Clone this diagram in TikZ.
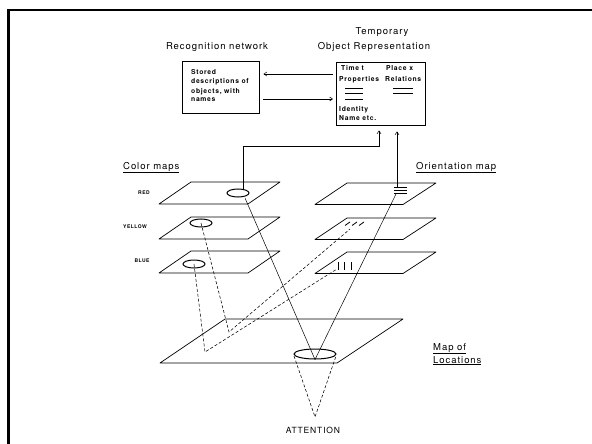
\documentclass[tikz,border=0pt]{standalone}
\usepackage{fontspec}
\setmainfont{TeX Gyre Heros}
\newfontfamily\pf[LetterSpace=10]{TeX Gyre Heros}
\usetikzlibrary{arrows.meta,shapes.geometric}
\begin{document}
\begin{tikzpicture}[x=1pt,y=-1pt,
  plane/.style={line width=0.7pt, line join=round},
  link/.style={line width=0.5pt},
  dlink/.style={line width=0.55pt, dash pattern=on 3pt off 2pt},
  arr/.style={line width=0.5pt, -{Straight Barb[length=3pt,width=4pt]}},
  spot/.style={draw, ellipse, line width=1pt, minimum width=22pt, minimum height=8pt, inner sep=0pt},
  box/.style={draw, line width=0.8pt, inner sep=0pt},
  title/.style={font=\pf\fontsize{9.5}{11}\selectfont, inner sep=0pt},
  lbl/.style={font=\pf\fontsize{9.5}{11}\selectfont, inner sep=0pt, anchor=base west},
  small/.style={font=\pf\bfseries\fontsize{6.8}{8}\selectfont, anchor=base west, inner sep=0pt},
  tiny/.style={font=\pf\bfseries\fontsize{5}{6}\selectfont, inner sep=0pt},
  tick/.style={line width=0.8pt}
]
\useasboundingbox (0,0) rectangle (592,444);
\fill[white] (0,0) rectangle (592,444);
% frame
\draw[line width=2.5pt] (8.7,444) -- (8.7,10) -- (592,10);

% titles
\node[title] (t1) at (382,32) {Temporary};
\node[title] (t2) at (374,47) {Object Representation};
\node[title] (t3) at (217,47) {Recognition network};

% boxes
\node[box, minimum width=77pt, minimum height=52pt] (rec) at (220.5,87) {};
\node[box, minimum width=89pt, minimum height=63pt] (orep) at (380.5,93.5) {};

% left box text
\node[small] (s1) at (191,74.5) {Stored};
\node[small] (s2) at (191,84) {descriptions of};
\node[small] (s3) at (191,93) {objects, with};
\node[small] (s4) at (191,102) {names};

% right box text
\node[small] (r1) at (341,70.5) {Time t};
\node[small] (r2) at (386,70.5) {Place x};
\node[small] (r3) at (339,81.5) {Properties};
\node[small] (r4) at (385,81.5) {Relations};
\node[small] (r5) at (339,111.5) {Identity};
\node[small] (r6) at (339,120.5) {Name etc.};
\draw[tick] (345,88) -- (363,88) (345,93.5) -- (363,93.5) (345,99) -- (363,99);
\draw[tick] (393,88) -- (413,88) (393,93) -- (413,93);

% arrows between boxes
\coordinate (u1) at (333,74);
\coordinate (u2) at (333,99);
\draw[arr, shorten >=4pt] (u1) -- (u1 -| rec.east);
\draw[arr, shorten <=4pt] (u2 -| rec.east) -- (u2);

% section labels
\node[lbl] (cm) at (123,169) {\underline{Color maps}};
\node[lbl] (om) at (416,169) {\underline{Orientation map}};
\node[lbl] (ml1) at (433,350) {\underline{Map of}};
\node[lbl] (ml2) at (433,363) {\underline{Locations}};
\node[tiny] (lr) at (144,193) {RED};
\node[tiny] (ly) at (135,227) {YELLOW};
\node[tiny] (lb) at (142,261) {BLUE};
\node[font=\pf\fontsize{8.5}{10}\selectfont, inner sep=0pt] (att) at (313,430) {ATTENTION};

% colour planes
\foreach \yt in {182,217,251}
  \draw[plane] (191,\yt) -- (280,\yt) -- (248,\yt+22) -- (159,\yt+22) -- cycle;
% orientation planes
\foreach \yt in {183,218,252}
  \draw[plane] (347,\yt) -- (436,\yt) -- (403,\yt+21.5) -- (315,\yt+21.5) -- cycle;
% map of locations
\draw[plane] (225,319) -- (403,319) -- (337,363) -- (160,363) -- cycle;

% spots
\node[spot] (redE) at (238,193) {};
\node[spot] (yelE) at (201,223) {};
\node[spot] (bluE) at (194,264) {};
\node[spot, minimum width=42pt, minimum height=10pt] (locE) at (315,354) {};

% orientation marks
\draw[tick] (394,187) -- (407,187) (394,190) -- (407,190) (394,193) -- (407,193);
\foreach \x in {345,352,359} \draw[tick] (\x,225.5) -- (\x+5,222);
\foreach \x in {338,344,351} \draw[line width=0.7pt] (\x,262) -- (\x,270);

% arrows to object representation
\coordinate (bend1) at (243,146);
\coordinate (k1) at (379,146);
\draw[arr, shorten >=5pt] (redE.north -| bend1) -- (bend1) -- (k1) -- (k1 |- orep.south);
\coordinate (ortop) at (397,187);
\draw[arr, shorten >=6pt] (ortop) -- (ortop |- orep.south);

% solid lines to the attended location
\coordinate (rs) at (245,198);
\coordinate (ob) at (396,194);
\draw[link] (rs) -- (locE.south);
\draw[link] (ob) -- (locE.south);

% dashed lines
\coordinate (p2) at (229,332);
\coordinate (yo) at (350,229);
\draw[dlink] (yelE.center) -- (p2) -- (yo);
\coordinate (p1) at (205,352);
\coordinate (bo) at (337,269);
\draw[dlink] (bluE.center) -- (p1) -- (bo);

% attention cone
\coordinate (apex) at (315,417);
\coordinate (cl) at (294,356);
\coordinate (cr) at (336,356);
\draw[dlink] (cl) -- (apex) -- (cr);
\end{tikzpicture}
\end{document}
